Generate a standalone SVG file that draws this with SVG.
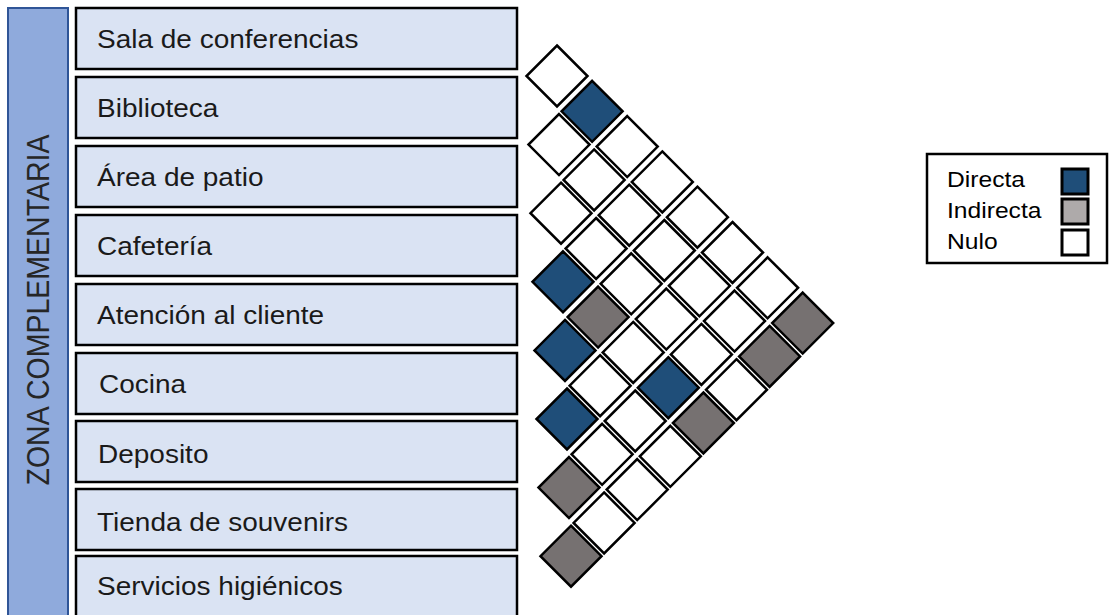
<svg xmlns="http://www.w3.org/2000/svg" xmlns:xlink="http://www.w3.org/1999/xlink" width="1109" height="615" viewBox="0 0 1109 615">
<style>
.bar{fill:#8FAADC;stroke:#2F5597;stroke-width:2}
.zona{font-family:"Liberation Sans",Arial,sans-serif;font-size:28.5px;fill:#262626;text-anchor:middle}
.row{fill:#DAE3F3;stroke:#000;stroke-width:2.5}
.lbl{font-family:"Liberation Sans",Arial,sans-serif;font-size:25px;fill:#1a1a1a}
.leg{font-family:"Liberation Sans",Arial,sans-serif;font-size:22px;fill:#000}
.dm{stroke:#000;stroke-width:2.5;stroke-linejoin:miter}
.w{fill:#FFFFFF}
.b{fill:#1F4E79}
.g{fill:#767171}
.sw{stroke:#000;stroke-width:3}
</style>
<defs>
<path id="d" d="M0,-30.5 L30.5,0 L0,30.5 L-30.5,0 Z"/>
</defs>
<rect width="1109" height="615" fill="#fff"/>
<g id="zona">
<rect class="bar" x="8" y="8" width="60" height="612"/>
<text class="zona" transform="translate(49,310) scale(1.08,1) rotate(-90)">ZONA COMPLEMENTARIA</text>
</g>
<g id="sala"><rect class="row" x="76" y="8" width="441" height="61"/><text class="lbl" transform="matrix(1.12 0 0 1 97 48)">Sala de conferencias</text></g>
<g id="biblioteca"><rect class="row" x="76" y="77" width="441" height="61"/><text class="lbl" transform="matrix(1.12 0 0 1 97 117)">Biblioteca</text></g>
<g id="patio"><rect class="row" x="76" y="146" width="441" height="61"/><text class="lbl" transform="matrix(1.12 0 0 1 97 186)">Área de patio</text></g>
<g id="cafeteria"><rect class="row" x="76" y="215" width="441" height="61"/><text class="lbl" transform="matrix(1.12 0 0 1 97 255)">Cafetería</text></g>
<g id="atencion"><rect class="row" x="76" y="284" width="441" height="61"/><text class="lbl" transform="matrix(1.12 0 0 1 97 324)">Atención al cliente</text></g>
<g id="cocina"><rect class="row" x="76" y="353" width="441" height="61"/><text class="lbl" transform="matrix(1.12 0 0 1 99 393)">Cocina</text></g>
<g id="deposito"><rect class="row" x="76" y="421" width="441" height="61"/><text class="lbl" transform="matrix(1.12 0 0 1 98 463)">Deposito</text></g>
<g id="tienda"><rect class="row" x="76" y="489" width="441" height="61"/><text class="lbl" transform="matrix(1.12 0 0 1 97 531)">Tienda de souvenirs</text></g>
<g id="servicios"><rect class="row" x="76" y="556" width="441" height="64"/><text class="lbl" transform="matrix(1.12 0 0 1 97 595)">Servicios higiénicos</text></g>
<g id="matrix">
<use href="#d" class="dm w" x="557" y="76"/>
<use href="#d" class="dm b" x="592.1" y="111.3"/>
<use href="#d" class="dm w" x="627.2" y="146.6"/>
<use href="#d" class="dm w" x="662.3" y="181.9"/>
<use href="#d" class="dm w" x="697.4" y="217.2"/>
<use href="#d" class="dm w" x="732.5" y="252.5"/>
<use href="#d" class="dm w" x="767.6" y="287.8"/>
<use href="#d" class="dm g" x="802.7" y="323.1"/>
<use href="#d" class="dm w" x="559" y="144.6"/>
<use href="#d" class="dm w" x="594.1" y="179.9"/>
<use href="#d" class="dm w" x="629.2" y="215.2"/>
<use href="#d" class="dm w" x="664.3" y="250.5"/>
<use href="#d" class="dm w" x="699.4" y="285.8"/>
<use href="#d" class="dm w" x="734.5" y="321.1"/>
<use href="#d" class="dm g" x="769.6" y="356.4"/>
<use href="#d" class="dm w" x="561" y="213.2"/>
<use href="#d" class="dm w" x="596.1" y="248.5"/>
<use href="#d" class="dm w" x="631.2" y="283.8"/>
<use href="#d" class="dm w" x="666.3" y="319.1"/>
<use href="#d" class="dm w" x="701.4" y="354.4"/>
<use href="#d" class="dm w" x="736.5" y="389.7"/>
<use href="#d" class="dm b" x="563" y="281.8"/>
<use href="#d" class="dm g" x="598.1" y="317.1"/>
<use href="#d" class="dm w" x="633.2" y="352.4"/>
<use href="#d" class="dm b" x="668.3" y="387.7"/>
<use href="#d" class="dm g" x="703.4" y="423"/>
<use href="#d" class="dm b" x="565" y="350.4"/>
<use href="#d" class="dm w" x="600.1" y="385.7"/>
<use href="#d" class="dm w" x="635.2" y="421"/>
<use href="#d" class="dm w" x="670.3" y="456.3"/>
<use href="#d" class="dm b" x="567" y="419"/>
<use href="#d" class="dm w" x="602.1" y="454.3"/>
<use href="#d" class="dm w" x="637.2" y="489.6"/>
<use href="#d" class="dm g" x="569" y="487.6"/>
<use href="#d" class="dm w" x="604.1" y="522.9"/>
<use href="#d" class="dm g" x="571" y="556.2"/>
</g>
<g id="legend">
<rect x="927" y="154" width="180" height="109" fill="#fff" stroke="#000" stroke-width="2.5"/>
<text class="leg" transform="matrix(1.12 0 0 1 947 187)">Directa</text>
<text class="leg" transform="matrix(1.12 0 0 1 947 218)">Indirecta</text>
<text class="leg" transform="matrix(1.12 0 0 1 947 249)">Nulo</text>
<rect class="sw" x="1062" y="169" width="26" height="25" fill="#1F4E79"/>
<rect class="sw" x="1062" y="199" width="26" height="25" fill="#AEAAAA"/>
<rect class="sw" x="1062" y="230" width="26" height="25" fill="#FFFFFF"/>
</g>
</svg>
